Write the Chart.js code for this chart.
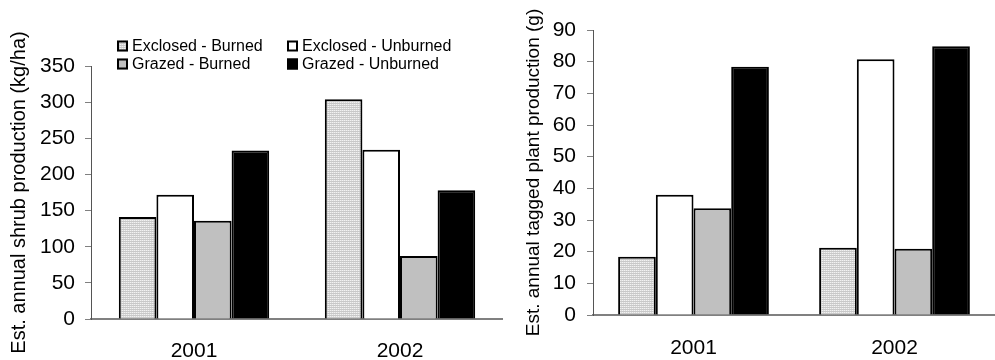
<!DOCTYPE html>
<html>
<head>
<meta charset="utf-8">
<script src="https://cdn.jsdelivr.net/npm/chart.js@4.4.1/dist/chart.umd.min.js"></script>
<style>
  html, body { margin: 0; padding: 0; background: #fff; }
  body { width: 995px; height: 360px; position: relative; overflow: hidden; }
  canvas { position: absolute; top: 0; }
  #c1 { left: 0; }
  #c2 { left: 500px; }
</style>
</head>
<body>
<canvas id="c1" width="503" height="360"></canvas>
<canvas id="c2" width="495" height="360"></canvas>
<script>
const categories = ['2001', '2002'];
const seriesLabels = ['Exclosed - Burned', 'Exclosed - Unburned', 'Grazed - Burned', 'Grazed - Unburned'];

// Left chart: shrub production (kg/ha)
const shrubExclosedBurned   = [141, 304];
const shrubExclosedUnburned = [172, 234];
const shrubGrazedBurned     = [136, 87];
const shrubGrazedUnburned   = [233, 178];
const shrubAxis = { min: 0, max: 350, step: 50 };
const shrubTitle = 'Est. annual shrub production (kg/ha)';

// Right chart: tagged plant production (g)
const tagExclosedBurned   = [18.4, 21.2];
const tagExclosedUnburned = [38.0, 80.8];
const tagGrazedBurned     = [33.7, 20.9];
const tagGrazedUnburned   = [78.4, 84.9];
const tagAxis = { min: 0, max: 90, step: 10 };
const tagTitle = 'Est. annual tagged plant production (g)';

Chart.defaults.font.family = '"Liberation Sans", Arial, sans-serif';
Chart.defaults.color = '#000';

function makeHatch() {
  const p = document.createElement('canvas');
  p.width = 2; p.height = 2;
  const g = p.getContext('2d');
  g.fillStyle = '#f2f2f2'; g.fillRect(0, 0, 2, 2);
  g.fillStyle = '#c8c8c8'; g.fillRect(0, 1, 2, 1);
  g.fillStyle = '#dadada'; g.fillRect(1, 0, 1, 1);
  return g.createPattern(p, 'repeat');
}
const hatch = makeHatch();
const fills = [hatch, '#ffffff', '#c0c0c0', '#000000'];

function datasets(arrs) {
  return arrs.map((d, i) => ({
    label: seriesLabels[i],
    data: d,
    backgroundColor: fills[i],
    borderColor: '#000',
    borderWidth: 2,
    borderSkipped: 'bottom'
  }));
}

const legendPlugin = {
  id: 'gridLegend',
  afterDraw(chart) {
    const ctx = chart.ctx;
    const ds = chart.data.datasets;
    const colX = [117, 287];
    const rowY = [46, 64];
    ctx.save();
    ctx.font = '16px "Liberation Sans", Arial, sans-serif';
    ctx.textBaseline = 'middle';
    ctx.textAlign = 'left';
    ds.forEach((d, i) => {
      const x = colX[i % 2];
      const y = rowY[Math.floor(i / 2)];
      ctx.fillStyle = d.backgroundColor;
      ctx.fillRect(x, y - 5.5, 11, 11);
      ctx.strokeStyle = '#000';
      ctx.lineWidth = 2;
      ctx.strokeRect(x + 1, y - 4.5, 9, 9);
      ctx.fillStyle = '#000';
      ctx.fillText(d.label, x + 15, y + 1);
    });
    ctx.restore();
  }
};

function makeChart(id, arrs, axis, title, cfg) {
  return new Chart(document.getElementById(id), {
    type: 'bar',
    data: { labels: categories, datasets: datasets(arrs) },
    options: {
      responsive: false,
      animation: false,
      devicePixelRatio: 1,
      layout: { padding: { top: cfg.top, left: 0, right: 0, bottom: 0 } },
      datasets: { bar: { categoryPercentage: cfg.catPct, barPercentage: 1 } },
      plugins: { legend: { display: false }, tooltip: { enabled: false } },
      scales: {
        x: {
          grid: { display: false, drawTicks: false },
          border: { display: true, color: '#808080', width: 2 },
          ticks: { font: { size: 21 }, padding: cfg.xPad, color: '#000' },
          afterFit: s => { s.height = 360 - cfg.bottom; }
        },
        y: {
          min: axis.min, max: axis.max,
          grid: { display: true, drawOnChartArea: false, drawTicks: true, tickLength: 6, color: '#808080', lineWidth: 1 },
          border: { display: true, color: '#555', width: 1 },
          ticks: { stepSize: axis.step, font: { size: 21 }, padding: cfg.yPad, color: '#000' },
          title: { display: true, text: title, font: { size: cfg.titleSize }, color: '#000', padding: { top: cfg.titlePad, bottom: 0 } },
          afterFit: s => { s.width = cfg.axisX; }
        }
      }
    },
    plugins: cfg.legend ? [legendPlugin] : []
  });
}

makeChart('c1',
  [shrubExclosedBurned, shrubExclosedUnburned, shrubGrazedBurned, shrubGrazedUnburned],
  shrubAxis, shrubTitle,
  { top: 66, bottom: 319, axisX: 91, catPct: 0.73, xPad: 20, yPad: 10, titleSize: 20, titlePad: 7, legend: true });

makeChart('c2',
  [tagExclosedBurned, tagExclosedUnburned, tagGrazedBurned, tagGrazedUnburned],
  tagAxis, tagTitle,
  { top: 30, bottom: 315, axisX: 93, catPct: 0.75, xPad: 21, yPad: 11, titleSize: 19, titlePad: 22, legend: false });
</script>
</body>
</html>
